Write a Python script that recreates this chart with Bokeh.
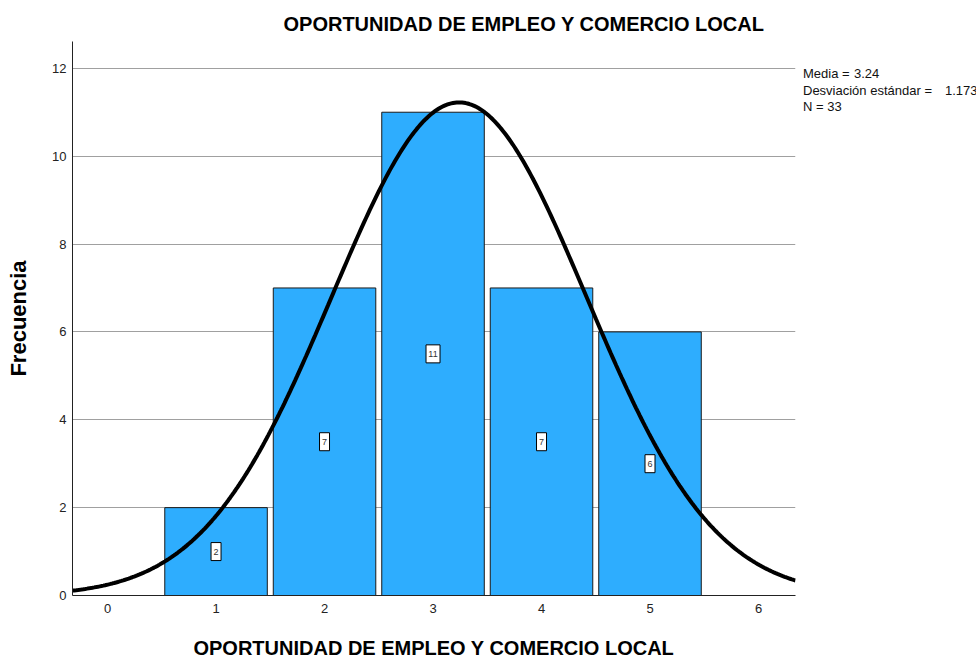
import numpy as np
from bokeh.plotting import figure
from bokeh.models import ColumnDataSource, Range1d, FixedTicker, Div
from bokeh.layouts import row
from bokeh.embed import file_html
from bokeh.resources import INLINE
from bokeh.core.properties import value

categories = [1, 2, 3, 4, 5]
frequencies = [2, 7, 11, 7, 6]
mean_val = 3.24
sd_val = 1.173
n_val = 33
x_ticks = [0, 1, 2, 3, 4, 5, 6]
y_ticks = [0, 2, 4, 6, 8, 10, 12]
title_text = "OPORTUNIDAD DE EMPLEO Y COMERCIO LOCAL"
x_label = "OPORTUNIDAD DE EMPLEO Y COMERCIO LOCAL"
y_label = "Frecuencia"
stat_names = ["Media =", "Desviación estándar =", "N = 33"]
stat_values = ["3.24", "1.173", ""]

FONT = "Liberation Sans"
BAR_COLOR = "#2eadfe"

p = figure(frame_width=723, frame_height=554, output_backend="svg", toolbar_location=None,
           x_range=Range1d(-0.323, 6.341), y_range=Range1d(0, 12.61),
           min_border_left=72, min_border_right=8, min_border_top=41, min_border_bottom=20)
p.outline_line_color = None
p.background_fill_color = "white"

p.xgrid.visible = False
p.ygrid.ticker = FixedTicker(ticks=y_ticks)
p.ygrid.grid_line_color = "#a0a0a0"
p.ygrid.grid_line_width = 1

src = ColumnDataSource(dict(x=categories, top=frequencies,
                            mid=[f / 2 for f in frequencies],
                            lab=[str(f) for f in frequencies],
                            w=[14 if f >= 10 else 10 for f in frequencies]))
p.vbar(x="x", top="top", bottom=0, width=0.945, source=src,
       fill_color=BAR_COLOR, line_color="#1a1a1a", line_width=1)

xs = np.linspace(-0.323, 6.341, 400)
ys = n_val * 1.0 / (sd_val * np.sqrt(2 * np.pi)) * np.exp(-0.5 * ((xs - mean_val) / sd_val) ** 2)
p.line(xs, ys, line_color="black", line_width=4)

p.rect(x="x", y="mid", width="w", height=18, width_units="screen", height_units="screen",
       source=src, fill_color="white", line_color="black", line_width=1)
p.text(x="x", y="mid", text="lab", source=src, text_align="center", text_baseline="middle",
       text_font=value(FONT), text_font_size="9px", text_color="#333333")

for ax in (p.xaxis[0], p.yaxis[0]):
    ax.major_tick_line_color = None
    ax.minor_tick_line_color = None
    ax.major_tick_out = 0
    ax.major_tick_in = 0
    ax.minor_tick_out = 0
    ax.minor_tick_in = 0
    ax.axis_line_color = "#222222"
    ax.axis_line_width = 1
    ax.major_label_text_font = FONT
    ax.major_label_text_font_size = "13px"
    ax.major_label_text_color = "#222222"
    ax.axis_label_text_font = FONT
    ax.axis_label_text_font_style = "bold"
    ax.axis_label_text_color = "black"

p.xaxis.axis_label_text_font_size = "20px"
p.yaxis.axis_label_text_font_size = "22px"
p.xaxis.ticker = FixedTicker(ticks=x_ticks)
p.yaxis.ticker = FixedTicker(ticks=y_ticks)
p.xaxis.axis_label = x_label
p.yaxis.axis_label = y_label
p.xaxis.major_label_standoff = 8
p.xaxis.axis_label_standoff = 21
p.yaxis.major_label_standoff = 6
p.yaxis.axis_label_standoff = 18

p.title.text = title_text
p.title.align = "left"
p.title.offset = 211
p.title.standoff = 14
p.title.text_font = FONT
p.title.text_font_size = "20px"
p.title.text_font_style = "bold"
p.title.text_color = "black"

lines = []
for name, val, w in zip(stat_names, stat_values, [51, 142, 60]):
    lines.append('<div style="height:16.5px;line-height:16.5px;white-space:nowrap">'
                 '<span style="display:inline-block;width:%dpx">%s</span>%s</div>' % (w, name, val))
stats_div = Div(text="".join(lines), width=170, margin=(66, 0, 0, 0),
                styles={"font-family": FONT, "font-size": "13px", "color": "#111111"})

layout = row(p, stats_div)
open("out.html", "w").write(file_html(layout, INLINE))
